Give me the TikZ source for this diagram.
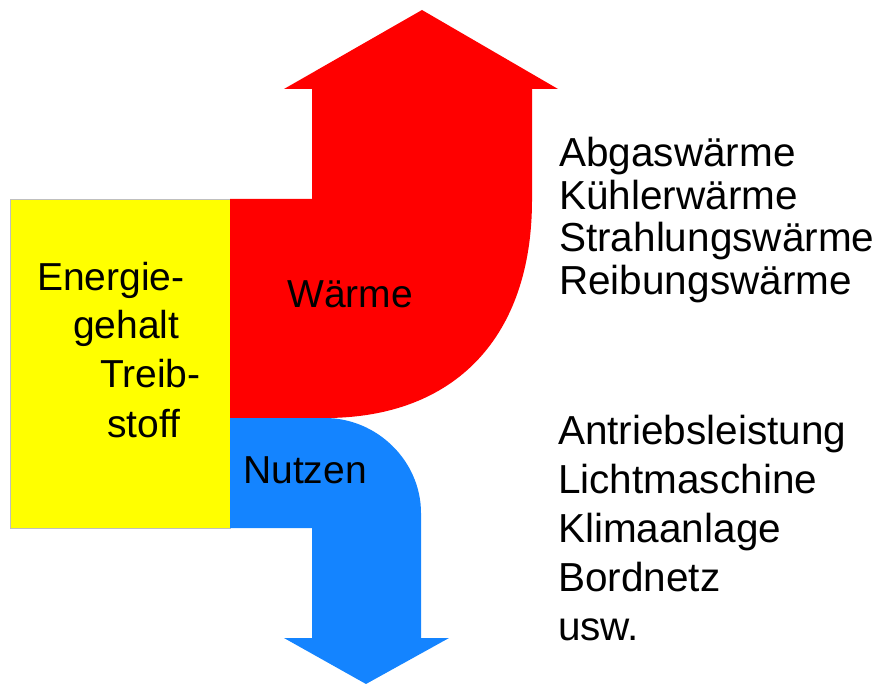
\documentclass[tikz,border=0pt]{standalone}
\usepackage{fontspec}
\setmainfont{Liberation Sans}
\definecolor{fuel}{RGB}{255,255,0}
\definecolor{heat}{RGB}{255,0,0}
\definecolor{use}{RGB}{20,132,255}
\begin{document}
\begin{tikzpicture}[x=1pt,y=-1pt,
  lbl/.style={anchor=base west,inner sep=0pt,font=\fontsize{39}{47}\selectfont},
  lst/.style={anchor=base west,inner sep=0pt,font=\fontsize{40.5}{48}\selectfont}]
\useasboundingbox (0,0) rectangle (878,684);
% yellow block
\fill[fuel,draw=black!25,line width=0.8pt] (10,199) rectangle (230,528);
% red heat arrow
\fill[heat] (230,199) -- (312,199) -- (312,89) -- (284,89) -- (422,10) -- (558,89)
  -- (532,89) -- (532,200) .. controls (532,337) and (455,418) .. (325,418)
  -- (230,418) -- cycle;
% blue use arrow
\fill[use] (230,418) -- (325,418) .. controls (377,418) and (421,461) .. (421,513)
  -- (421,638) -- (449,638) -- (366,684) -- (284,638) -- (312,638)
  -- (312,528) -- (230,528) -- cycle;
% texts in the shapes
\node[lbl] (e1) at (37,291) {Energie-};
\node[lbl] (e2) at (73,339) {gehalt};
\node[lbl] (e3) at (100,388) {Treib-};
\node[lbl] (e4) at (107,437) {stoff};
\node[lbl] (w) at (287,308) {Wärme};
\node[lbl] (n) at (243,483) {Nutzen};
% right lists
\node[lst] (a1) at (559,167) {Abgaswärme};
\node[lst] (a2) at (559,210) {Kühlerwärme};
\node[lst] (a3) at (559,252) {Strahlungswärme};
\node[lst] (a4) at (559,295) {Reibungswärme};
\node[lst] (b1) at (558,444) {Antriebsleistung};
\node[lst] (b2) at (558,493) {Lichtmaschine};
\node[lst] (b3) at (558,542) {Klimaanlage};
\node[lst] (b4) at (558,591) {Bordnetz};
\node[lst] (b5) at (558,640) {usw.};
\end{tikzpicture}
\end{document}
